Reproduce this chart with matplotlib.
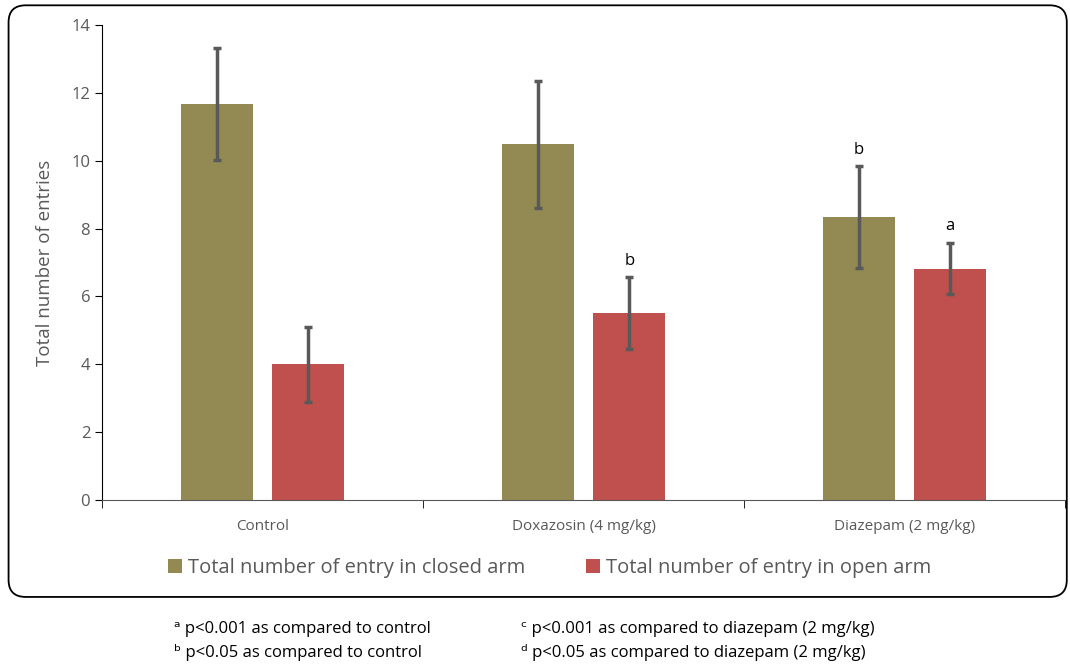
import matplotlib.pyplot as plt
import numpy as np
from matplotlib.patches import FancyBboxPatch

groups = ['Control', 'Doxazosin (4 mg/kg)', 'Diazepam (2 mg/kg)']
closed_arm = [11.67, 10.48, 8.34]
closed_err = [1.65, 1.88, 1.50]
open_arm = [4.0, 5.51, 6.82]
open_err = [1.10, 1.06, 0.76]
closed_marks = ['', '', 'b']
open_marks = ['', 'b', 'a']
legend_labels = ['Total number of entry in closed arm', 'Total number of entry in open arm']
notes_left = ['\u1d43 p<0.001 as compared to control', '\u1d47 p<0.05 as compared to control']
notes_right = ['\u1d9c p<0.001 as compared to diazepam (2 mg/kg)',
               '\u1d48 p<0.05 as compared to diazepam (2 mg/kg)']

plt.rcParams['font.family'] = ['Open Sans', 'DejaVu Sans']
grey = '#595959'

fig = plt.figure(figsize=(10.7, 6.64), dpi=100)
# rounded frame around the chart
frame = FancyBboxPatch((0.008, 0.101), 0.989, 0.891, boxstyle='round,pad=0,rounding_size=0.016',
                       transform=fig.transFigure, fill=False, edgecolor='black', linewidth=1.3,
                       mutation_aspect=1.6)
fig.patches.append(frame)

ax = fig.add_axes([0.0953, 0.247, 0.90, 0.7153])
x = np.arange(len(groups))
w = 0.224
off = 0.143
ekw = dict(ecolor=grey, elinewidth=2.5, capsize=3, capthick=2.5)
ax.bar(x - off, closed_arm, w, yerr=closed_err, color='#938953', error_kw=ekw,
       label=legend_labels[0])
ax.bar(x + off, open_arm, w, yerr=open_err, color='#C0504D', error_kw=ekw,
       label=legend_labels[1])

for i in range(len(groups)):
    if closed_marks[i]:
        ax.text(x[i] - off, closed_arm[i] + closed_err[i] + 0.25, closed_marks[i],
                ha='center', va='bottom', fontsize=12)
    if open_marks[i]:
        ax.text(x[i] + off, open_arm[i] + open_err[i] + 0.25, open_marks[i],
                ha='center', va='bottom', fontsize=12)

ax.set_xlim(-0.5, 2.5)
ax.set_ylim(0, 14)
ax.set_yticks(range(0, 15, 2))
ax.set_xticks(x)
ax.set_xticklabels(groups, fontsize=11, color=grey)
ax.set_xticks([-0.5, 0.5, 1.5, 2.5], minor=True)
ax.tick_params(axis='x', which='major', length=0, pad=14)
ax.tick_params(axis='x', which='minor', length=6, color='black', direction='out')
ax.tick_params(axis='y', labelsize=12, labelcolor=grey, length=5, color='black')
ax.set_ylabel('Total number of entries', fontsize=13.5, color=grey, labelpad=12)
for s in ['top', 'right']:
    ax.spines[s].set_visible(False)
ax.spines['bottom'].set_color(grey)
ax.spines['left'].set_color('black')

ax.legend(loc='upper center', bbox_to_anchor=(0.465, -0.085), ncol=2, frameon=False,
          fontsize=14.5, labelcolor=grey, handlelength=0.7, handleheight=0.7,
          handletextpad=0.3, columnspacing=3)

fig.text(0.163, 0.046, notes_left[0], fontsize=12)
fig.text(0.163, 0.011, notes_left[1], fontsize=12)
fig.text(0.487, 0.046, notes_right[0], fontsize=12)
fig.text(0.487, 0.011, notes_right[1], fontsize=12)

fig.savefig('out.png', dpi=100)
